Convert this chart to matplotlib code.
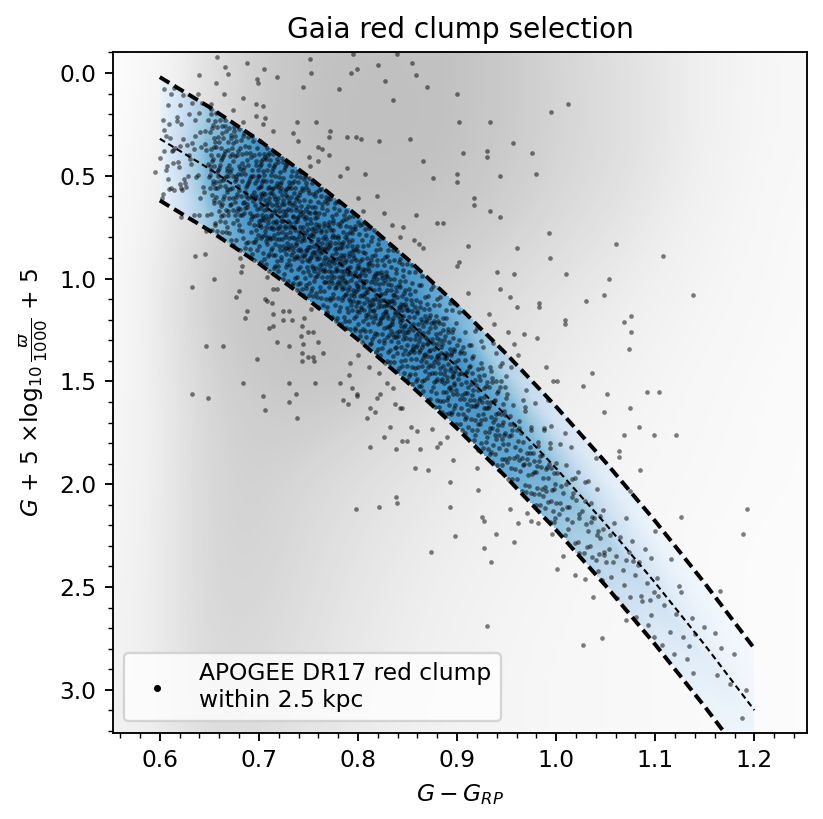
import numpy as np
import matplotlib
matplotlib.use('Agg')
import matplotlib.pyplot as plt
from matplotlib.lines import Line2D
from matplotlib.ticker import MultipleLocator

# selection curves (colour -> G + 5 log10(plx/1000) + 5)
curve_x = [0.60, 0.65, 0.70, 0.75, 0.80, 0.85, 0.90, 0.95, 1.00, 1.05, 1.10, 1.15, 1.20]
curve_upper = [0.020, 0.166, 0.327, 0.504, 0.697, 0.905, 1.129, 1.368, 1.623, 1.894, 2.180, 2.482, 2.799]
curve_mid = [0.320, 0.466, 0.627, 0.804, 0.997, 1.205, 1.429, 1.668, 1.923, 2.194, 2.480, 2.782, 3.099]
curve_lower = [0.620, 0.766, 0.927, 1.104, 1.297, 1.505, 1.729, 1.968, 2.223, 2.494, 2.780, 3.082, 3.399]

# grey background: all Gaia stars, density level (0..1 on Greys) at grid nodes
grey_x = [0.55, 0.60, 0.65, 0.70, 0.75, 0.80, 0.85, 0.90, 0.95, 1.00, 1.05, 1.10, 1.15, 1.20, 1.25]
grey_y = [-0.1, 0.2, 0.5, 0.8, 1.1, 1.4, 1.7, 2.0, 2.3, 2.6, 2.9, 3.2]
grey_level = [
    [0.02, 0.08, 0.26, 0.36, 0.41, 0.43, 0.43, 0.42, 0.38, 0.32, 0.27, 0.21, 0.15, 0.10, 0.07],
    [0.02, 0.10, 0.27, 0.37, 0.42, 0.44, 0.44, 0.42, 0.38, 0.33, 0.28, 0.22, 0.15, 0.10, 0.07],
    [0.03, 0.13, 0.30, 0.37, 0.41, 0.43, 0.43, 0.41, 0.37, 0.32, 0.27, 0.21, 0.14, 0.09, 0.06],
    [0.04, 0.17, 0.34, 0.39, 0.41, 0.41, 0.39, 0.37, 0.33, 0.28, 0.23, 0.17, 0.12, 0.08, 0.05],
    [0.05, 0.19, 0.36, 0.41, 0.41, 0.39, 0.35, 0.31, 0.27, 0.22, 0.18, 0.14, 0.10, 0.07, 0.05],
    [0.06, 0.18, 0.34, 0.39, 0.42, 0.41, 0.35, 0.29, 0.24, 0.19, 0.15, 0.11, 0.08, 0.06, 0.04],
    [0.07, 0.17, 0.32, 0.36, 0.36, 0.32, 0.27, 0.23, 0.19, 0.15, 0.12, 0.09, 0.07, 0.05, 0.04],
    [0.08, 0.17, 0.32, 0.34, 0.30, 0.26, 0.22, 0.18, 0.15, 0.12, 0.10, 0.08, 0.06, 0.05, 0.04],
    [0.09, 0.18, 0.32, 0.33, 0.28, 0.23, 0.19, 0.16, 0.13, 0.10, 0.08, 0.07, 0.05, 0.04, 0.03],
    [0.10, 0.18, 0.31, 0.31, 0.26, 0.21, 0.17, 0.14, 0.11, 0.09, 0.07, 0.06, 0.05, 0.04, 0.03],
    [0.11, 0.18, 0.30, 0.29, 0.24, 0.19, 0.16, 0.13, 0.10, 0.08, 0.07, 0.06, 0.05, 0.04, 0.03],
    [0.12, 0.18, 0.28, 0.27, 0.22, 0.18, 0.15, 0.12, 0.10, 0.08, 0.07, 0.06, 0.05, 0.04, 0.03],
]

# blue: selected red clump density, per colour node, 4 strips from upper to lower curve
blue_d = [-0.225, -0.075, 0.075, 0.225]
blue_level = [
    [0.06, 0.08, 0.08, 0.06],
    [0.40, 0.48, 0.48, 0.40],
    [0.62, 0.66, 0.66, 0.62],
    [0.64, 0.67, 0.67, 0.64],
    [0.64, 0.67, 0.67, 0.64],
    [0.60, 0.66, 0.66, 0.62],
    [0.47, 0.60, 0.64, 0.59],
    [0.30, 0.47, 0.56, 0.52],
    [0.18, 0.33, 0.46, 0.40],
    [0.11, 0.21, 0.33, 0.26],
    [0.06, 0.12, 0.20, 0.14],
    [0.04, 0.07, 0.11, 0.07],
    [0.02, 0.03, 0.05, 0.03],
]

# APOGEE stars inside the band: counts per 0.05 colour bin, 4 strips (upper -> lower)
band_x0 = [0.60, 0.65, 0.70, 0.75, 0.80, 0.85, 0.90, 0.95, 1.00, 1.05, 1.10, 1.15]
band_counts = [
    [14, 20, 18, 10],
    [52, 64, 64, 38],
    [64, 86, 86, 50],
    [56, 82, 90, 50],
    [42, 76, 82, 48],
    [28, 62, 74, 46],
    [14, 40, 56, 40],
    [6, 16, 40, 34],
    [3, 11, 24, 18],
    [2, 7, 14, 10],
    [1, 5, 7, 4],
    [0, 4, 3, 1],
]

# APOGEE stars outside the band, read one by one
out_x = [0.900, 1.012, 0.995, 0.902, 0.933, 0.956, 0.906, 0.930, 0.930, 0.976, 0.900, 0.900, 0.943,
         0.980, 0.917, 0.917, 0.933, 0.943, 0.993, 1.060, 0.911, 0.960, 0.994, 1.108, 0.900, 0.902,
         0.940, 0.957, 1.010, 1.053, 0.943, 0.911, 1.048, 1.138, 0.953, 0.960, 0.983, 0.983, 1.030,
         0.932, 0.937, 1.009, 1.009, 1.068, 1.076, 1.076, 1.074, 0.951, 0.968, 0.981, 0.957, 0.990,
         0.658, 0.666, 0.688, 0.705, 0.640, 0.669, 0.657, 0.698, 0.699, 0.718, 0.752, 0.795, 0.753,
         0.793, 0.799, 0.820, 0.839, 0.855, 0.859, 0.827, 0.744, 0.781, 0.835, 0.870, 0.639, 0.665,
         0.684, 0.652, 0.674, 0.697, 0.704, 0.697, 0.706, 0.684, 0.714, 0.704, 0.738, 0.758, 0.772,
         0.771, 0.734, 0.739, 0.789, 0.798, 0.803, 0.821, 0.852, 0.760, 0.764, 0.751, 0.760, 0.771,
         0.782, 0.807, 0.789, 0.752, 0.866, 0.876, 0.819, 0.826, 0.845, 0.834, 0.862, 0.880, 0.886,
         0.866, 0.800, 0.805, 0.842, 0.857, 0.859,
         0.595, 0.603, 0.611, 0.620, 0.621, 0.613, 0.621, 0.647, 0.636, 0.646, 0.655, 0.632, 0.681,
         0.682, 0.680, 0.677, 0.688, 0.686, 0.647, 0.664, 0.708, 0.714, 0.706, 0.718, 0.724, 0.724,
         0.710, 0.698, 0.730, 0.742, 0.744, 0.743, 0.755, 0.756, 0.765, 0.746, 0.753, 0.792, 0.800,
         0.791, 0.811, 0.821, 0.819, 0.799, 0.683, 0.708, 0.713, 0.730, 0.714, 0.714, 0.733, 0.743,
         0.750, 0.755, 0.718, 0.760, 0.743, 0.750,
         0.632, 0.649, 0.684, 0.704, 0.706, 0.730, 0.737, 0.738, 0.730, 0.757, 0.782, 0.785, 0.790,
         0.799, 0.794, 0.809, 0.812, 0.817, 0.812, 0.822, 0.826, 0.832, 0.838, 0.837, 0.842, 0.844,
         0.849, 0.853, 0.860, 0.858, 0.863, 0.871, 0.880, 0.883, 0.893, 0.896, 0.875, 0.890, 0.838,
         0.839, 0.821, 0.798, 0.893, 0.898, 0.874, 0.829, 0.835,
         1.036, 1.027, 1.051, 1.092, 1.104, 1.048, 1.075, 1.084, 1.099, 1.121, 1.068, 1.063, 1.063,
         1.085, 1.193, 1.189, 1.126, 1.165, 1.001, 0.997, 0.961,
         0.844, 0.920, 0.921, 0.925, 0.927, 0.939, 0.957, 0.927, 0.934, 0.930, 0.953, 0.971, 0.975,
         0.961, 0.982, 0.996, 1.001, 1.007, 1.019, 1.029, 1.037, 1.027, 1.046, 1.070]
out_y = [0.10, 0.15, 0.19, 0.24, 0.24, 0.34, 0.39, 0.38, 0.41, 0.39, 0.49, 0.53, 0.50,
         0.49, 0.61, 0.64, 0.67, 0.70, 0.78, 0.83, 0.84, 0.85, 0.90, 0.89, 0.94, 0.92,
         0.97, 0.98, 0.98, 1.00, 1.05, 1.07, 1.08, 1.08, 1.09, 1.14, 1.12, 1.14, 1.11,
         1.17, 1.22, 1.20, 1.22, 1.21, 1.18, 1.26, 1.34, 1.26, 1.27, 1.29, 1.32, 1.43,
         -0.08, -0.03, -0.05, -0.02, 0.01, 0.005, 0.05, 0.03, 0.05, 0.02, -0.07, -0.09, 0.00,
         0.00, -0.02, -0.04, -0.09, -0.05, 0.01, 0.04, 0.07, 0.08, 0.13, 0.07, 0.10, 0.10,
         0.12, 0.15, 0.18, 0.15, 0.16, 0.21, 0.22, 0.24, 0.28, 0.25, 0.24, 0.24, 0.28,
         0.31, 0.29, 0.33, 0.31, 0.31, 0.32, 0.33, 0.32, 0.36, 0.37, 0.41, 0.43, 0.40,
         0.50, 0.49, 0.46, 0.45, 0.43, 0.51, 0.60, 0.68, 0.75, 0.74, 0.83, 0.73, 0.73,
         0.85, 0.61, 0.67, 0.80, 0.81, 0.69,
         0.48, 0.59, 0.56, 0.54, 0.56, 0.44, 0.70, 0.77, 0.89, 0.88, 1.00, 1.04, 0.90,
         0.97, 1.06, 1.09, 1.16, 1.19, 1.33, 1.33, 0.99, 1.05, 1.10, 1.05, 1.16, 1.20,
         1.24, 1.39, 1.33, 1.28, 1.32, 1.40, 1.38, 1.40, 1.36, 1.19, 1.15, 1.41, 1.37,
         1.47, 1.43, 1.46, 1.58, 1.56, 0.94, 1.11, 1.12, 1.16, 1.17, 1.23, 1.20, 1.23,
         1.26, 1.26, 1.31, 1.31, 1.36, 1.38,
         1.56, 1.58, 1.51, 1.57, 1.64, 1.60, 1.56, 1.68, 1.51, 1.51, 1.51, 1.59, 1.61,
         1.57, 1.53, 1.68, 1.63, 1.65, 1.82, 1.56, 1.77, 1.72, 1.83, 1.61, 1.63, 1.79,
         1.79, 1.72, 1.74, 1.92, 1.83, 1.93, 1.82, 1.80, 1.99, 1.88, 1.73, 1.77, 2.06,
         2.09, 2.11, 2.12, 2.11, 2.25, 2.33, 1.51, 1.53,
         1.46, 1.52, 1.56, 1.55, 1.55, 1.65, 1.63, 1.72, 1.76, 1.76, 1.76, 1.84, 1.87,
         1.93, 2.12, 2.24, 2.16, 2.52, 1.50, 1.50, 1.37,
         1.63, 1.92, 2.03, 2.16, 2.18, 2.24, 2.28, 2.31, 2.38, 2.69, 2.12, 2.14, 2.18,
         2.19, 2.19, 2.24, 2.41, 2.35, 2.44, 2.46, 2.55, 2.78, 2.75, 2.66]


def mid_of(x):
    return np.interp(x, curve_x, curve_mid)


def halton(k, base):
    # van der Corput radical inverse, used to spread counted stars inside a bin
    out = np.zeros(len(k))
    f = 1.0 / base
    k = k.copy()
    while np.any(k > 0):
        out += f * (k % base)
        k //= base
        f /= base
    return out


strip_d0 = [-0.30, -0.15, 0.0, 0.15]
in_x, in_y = [], []
for i, x0 in enumerate(band_x0):
    for j, n in enumerate(band_counts[i]):
        k = np.arange(1, n + 1) + 211 * (4 * i + j) + 17
        xx = x0 + 0.05 * halton(k, 2)
        in_x.extend(xx)
        in_y.extend(mid_of(xx) + strip_d0[j] + 0.15 * halton(k, 3))

# blue band image on a fine grid
gx = np.linspace(0.55, 1.25, 351)
gy = np.linspace(-0.1, 3.2, 331)
X, Y = np.meshgrid(gx, gy)
D = Y - mid_of(X)
bl = np.array(blue_level)
strips = np.array([np.interp(X, curve_x, bl[:, r]) for r in range(4)])
pos = np.clip((D - blue_d[0]) / 0.15, 0, 3)
i0 = np.clip(np.floor(pos).astype(int), 0, 2)
f = pos - i0
lo = np.take_along_axis(strips, i0[None], 0)[0]
hi = np.take_along_axis(strips, (i0 + 1)[None], 0)[0]
B = lo * (1 - f) + hi * f
B = np.ma.masked_where((np.abs(D) > 0.3) | (X < 0.6) | (X > 1.2) | (B < 0.015), B)

dpi = 168
fig = plt.figure(figsize=(823 / dpi, 819 / dpi), dpi=dpi)
ax = fig.add_axes([0.137, 0.105, 0.844, 0.831])

ax.imshow(np.array(grey_level), cmap='Greys', vmin=0, vmax=1.2, origin='lower',
          extent=[0.525, 1.275, -0.25, 3.35], aspect='auto', interpolation='bicubic', zorder=0)
ax.imshow(B, cmap='Blues', vmin=0, vmax=1, origin='lower',
          extent=[gx[0], gx[-1], gy[0], gy[-1]], aspect='auto', interpolation='nearest', zorder=1)

ax.scatter(in_x, in_y, s=4, c='k', alpha=0.5, lw=0, zorder=3)
ax.scatter(out_x, out_y, s=4, c='k', alpha=0.5, lw=0, zorder=3)

ax.plot(curve_x, curve_upper, 'k--', lw=1.7, dashes=(2.8, 1.4), zorder=4)
ax.plot(curve_x, curve_mid, 'k--', lw=0.9, dashes=(2.9, 1.8), zorder=4)
ax.plot(curve_x, curve_lower, 'k--', lw=1.7, dashes=(2.8, 1.4), zorder=4)

ax.set_xlim(0.5525, 1.2535)
ax.set_ylim(3.21, -0.10)
ax.xaxis.set_major_locator(MultipleLocator(0.1))
ax.xaxis.set_minor_locator(MultipleLocator(0.02))
ax.yaxis.set_major_locator(MultipleLocator(0.5))
ax.yaxis.set_minor_locator(MultipleLocator(0.1))

ax.set_xlabel(r'$G - G_{RP}$')
ax.set_ylabel(r'$G$ + 5 $\times\log_{10}\frac{\varpi}{1000}$ + 5')
ax.set_title('Gaia red clump selection', fontsize=12)

handle = Line2D([], [], marker='o', color='k', ls='', ms=2.0)
ax.legend([handle], ['APOGEE DR17 red clump\nwithin 2.5 kpc'], loc='lower left', fontsize=10)

fig.savefig('out.png', dpi=dpi)
